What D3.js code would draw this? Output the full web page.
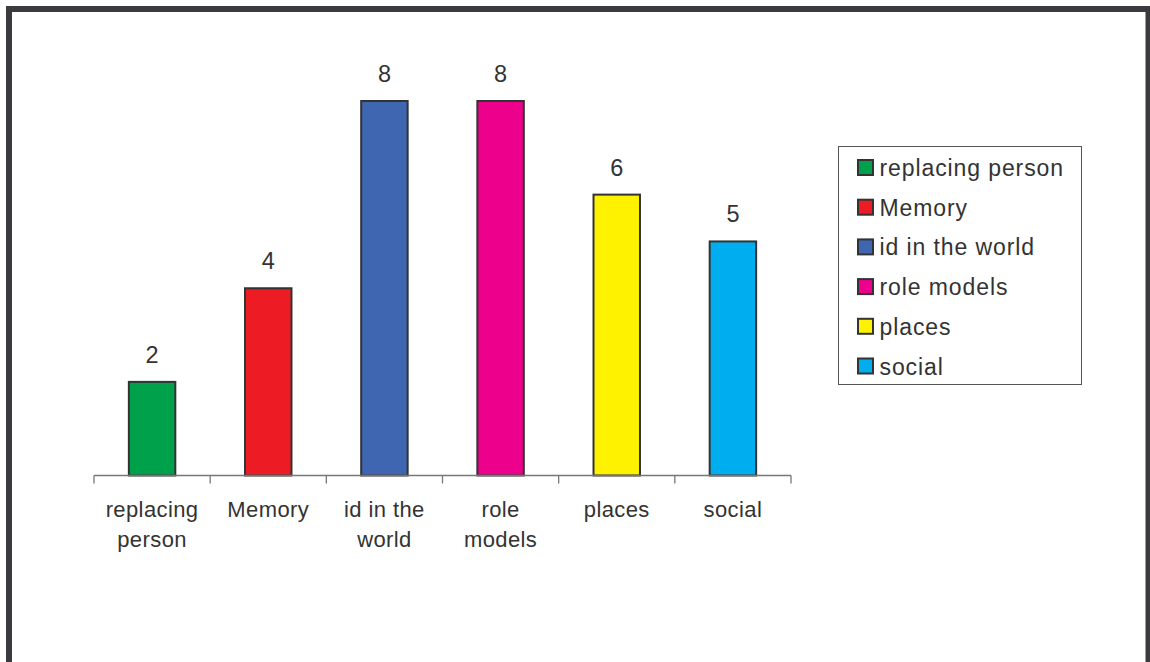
<!DOCTYPE html>
<html>
<head>
<meta charset="utf-8">
<script src="https://cdn.jsdelivr.net/npm/d3@7"></script>
<style>
  html, body { margin: 0; padding: 0; background: #fff; }
  svg { display: block; font-family: "Liberation Sans", Arial, sans-serif; }
</style>
</head>
<body>
<svg id="chart" width="1150" height="662"></svg>
<script>
// Category names (wrapped for the axis) and their counts
const categories = ["replacing person", "Memory", "id in the world", "role models", "places", "social"];
const axisLabels = [["replacing", "person"], ["Memory"], ["id in the", "world"], ["role", "models"], ["places"], ["social"]];
const values = [2, 4, 8, 8, 6, 5];
const colors = ["#00a14b", "#ed1c24", "#3f67b1", "#ec008c", "#fff200", "#00aeef"];

const svg = d3.select("#chart");
const textColor = "#333333";

// outer frame
svg.append("path")
  .attr("d", "M9,662 V9 H1148.5 V662")
  .attr("fill", "none")
  .attr("stroke", "#3a3a3f")
  .attr("stroke-width", 6);

const x = d3.scaleBand().domain(categories).range([94, 791]).paddingInner(0.6).paddingOuter(0.3);
const y = d3.scaleLinear().domain([0, 8]).range([475.5, 101]);

// bars
svg.append("g").selectAll("rect").data(values).join("rect")
  .attr("x", (d, i) => x(categories[i]))
  .attr("y", d => y(d))
  .attr("width", x.bandwidth())
  .attr("height", d => y(0) - y(d))
  .attr("fill", (d, i) => colors[i])
  .attr("stroke", "#333333")
  .attr("stroke-width", 2);

// value labels
svg.append("g").selectAll("text").data(values).join("text")
  .attr("x", (d, i) => x(categories[i]) + x.bandwidth() / 2)
  .attr("y", d => y(d) - 19)
  .attr("text-anchor", "middle")
  .attr("font-size", 23.5)
  .attr("fill", textColor)
  .text(d => d);

// category axis with ticks at band boundaries
const axisG = svg.append("g");
axisG.append("line")
  .attr("x1", x.range()[0]).attr("x2", x.range()[1])
  .attr("y1", y(0)).attr("y2", y(0))
  .attr("stroke", "#777").attr("stroke-width", 1.3);
const bounds = d3.range(categories.length + 1).map(i => x.range()[0] + i * (x.range()[1] - x.range()[0]) / categories.length);
axisG.selectAll("line.tick").data(bounds).join("line")
  .attr("class", "tick")
  .attr("x1", d => d).attr("x2", d => d)
  .attr("y1", y(0)).attr("y2", y(0) + 8)
  .attr("stroke", "#777").attr("stroke-width", 1.3);

const labelG = svg.append("g");
categories.forEach((c, i) => {
  const cx = x(c) + x.bandwidth() / 2;
  const t = labelG.append("text")
    .attr("x", cx)
    .attr("y", 517)
    .attr("text-anchor", "middle")
    .attr("font-size", 22)
    .attr("letter-spacing", 0.4)
    .attr("fill", textColor);
  axisLabels[i].forEach((line, j) => {
    t.append("tspan").attr("x", cx).attr("dy", j === 0 ? 0 : 29.5).text(line);
  });
});

// legend
const legend = svg.append("g");
legend.append("rect")
  .attr("x", 838.5).attr("y", 146.5).attr("width", 243).attr("height", 238)
  .attr("fill", "#fff").attr("stroke", "#555").attr("stroke-width", 1);
const rowY = d3.scalePoint().domain(categories).range([167.5, 366]);
categories.forEach((c, i) => {
  legend.append("rect")
    .attr("x", 858).attr("y", rowY(c) - 7.5).attr("width", 15).attr("height", 15)
    .attr("fill", colors[i]).attr("stroke", "#333").attr("stroke-width", 2);
  legend.append("text")
    .attr("x", 879.5).attr("y", rowY(c) + 8.5)
    .attr("font-size", 23)
    .attr("letter-spacing", 0.9)
    .attr("fill", textColor)
    .text(c);
});
</script>
</body>
</html>
